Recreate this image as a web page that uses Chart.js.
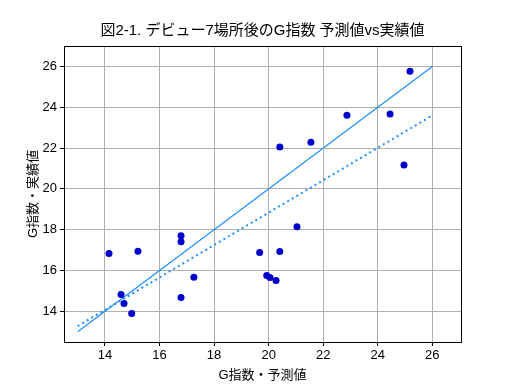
<!DOCTYPE html>
<html>
<head>
<meta charset="utf-8">
<script src="https://cdn.jsdelivr.net/npm/chart.js@4"></script>
<style>
  html, body { margin: 0; padding: 0; background: #fff; }
  #wrap { width: 512px; height: 384px; }
</style>
</head>
<body>
<div id="wrap"><canvas id="chart" width="512" height="384"></canvas></div>
<script>
const predicted = [14.15, 15.21, 14.59, 14.70, 14.98, 16.79, 16.79, 16.79, 17.26, 19.67, 20.41,
                   21.04, 19.93, 20.05, 20.27, 20.41, 21.55, 22.87, 24.45, 25.18, 24.96];
const actual    = [16.84, 16.94, 14.83, 14.39, 13.90, 17.71, 17.41, 14.68, 15.67, 16.88, 16.93,
                   18.15, 15.76, 15.66, 15.51, 22.05, 22.29, 23.61, 23.67, 25.76, 21.17];

// y = x reference line and fitted line
const lineX = [13, 26];
const idealY = [13, 26];
const fitY = [13.28, 23.6];

const xTicks = [14, 16, 18, 20, 22, 24, 26];
const yTicks = [14, 16, 18, 20, 22, 24, 26];

const titleText = '図2-1. デビュー7場所後のG指数 予測値vs実績値';
const xLabel = 'G指数・予測値';
const yLabel = 'G指数・実績値';

const jpFont = '"Liberation Sans", "Noto Sans CJK JP", sans-serif';

function pts(xs, ys) {
  return xs.map((x, i) => ({ x: x, y: ys[i] }));
}

const frame = {
  id: 'frame',
  afterDraw(chart) {
    const a = chart.chartArea;
    const ctx = chart.ctx;
    ctx.save();
    ctx.strokeStyle = '#000';
    ctx.lineWidth = 1;
    ctx.strokeRect(Math.round(a.left) + 0.5, Math.round(a.top) + 0.5,
                   Math.round(a.right - a.left), Math.round(a.bottom - a.top));
    ctx.fillStyle = '#000';
    ctx.font = '15px ' + jpFont;
    ctx.textAlign = 'center';
    ctx.textBaseline = 'middle';
    ctx.fillText(titleText, (a.left + a.right) / 2, 31);
    ctx.restore();
  }
};

new Chart(document.getElementById('chart'), {
  type: 'scatter',
  data: {
    datasets: [
      {
        data: pts(predicted, actual),
        backgroundColor: '#0000cd',
        borderColor: '#0000cd',
        pointRadius: 3.5,
        borderWidth: 0,
        order: 0
      },
      {
        data: pts(lineX, idealY),
        showLine: true,
        borderColor: '#1e90ff',
        borderWidth: 1.2,
        pointRadius: 0,
        order: 1
      },
      {
        data: pts(lineX, fitY),
        showLine: true,
        borderColor: '#1e90ff',
        borderWidth: 2,
        borderDash: [2, 3.3],
        pointRadius: 0,
        order: 1
      }
    ]
  },
  options: {
    responsive: false,
    animation: false,
    layout: { padding: { top: 46, right: 51, left: 0, bottom: 0 } },
    plugins: {
      legend: { display: false },
      tooltip: { enabled: false },
      title: { display: false }
    },
    scales: {
      x: {
        type: 'linear',
        min: 12.5,
        max: 27.05,
        afterBuildTicks: s => { s.ticks = xTicks.map(v => ({ value: v })); },
        afterFit: s => { s.height = 42; },
        grid: { color: '#b0b0b0', tickColor: '#000', tickLength: 4, lineWidth: 1 },
        border: { color: '#000', width: 1 },
        ticks: { color: '#000', font: { family: jpFont, size: 13 }, padding: 2, maxRotation: 0 },
        title: { display: true, text: xLabel, color: '#000', font: { family: jpFont, size: 13 }, padding: { top: 0, bottom: 1 } }
      },
      y: {
        type: 'linear',
        min: 12.5,
        max: 27.0,
        afterBuildTicks: s => { s.ticks = yTicks.map(v => ({ value: v })); },
        afterFit: s => { s.width = 64; },
        grid: { color: '#b0b0b0', tickColor: '#000', tickLength: 4, lineWidth: 1 },
        border: { color: '#000', width: 1 },
        ticks: { color: '#000', font: { family: jpFont, size: 13 }, padding: 3 },
        title: { display: true, text: yLabel, color: '#000', font: { family: jpFont, size: 13 }, padding: { top: 26, bottom: 0 } }
      }
    }
  },
  plugins: [frame]
});
</script>
</body>
</html>
